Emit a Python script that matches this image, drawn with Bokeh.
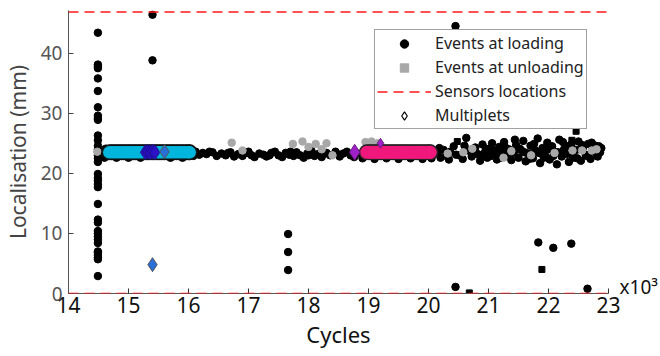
from bokeh.plotting import figure
from bokeh.models import Span, Legend, LegendItem, FixedTicker, LinearAxis
from bokeh.embed import file_html
from bokeh.resources import INLINE

FONT = "Noto Sans"
NAN = float("nan")

# ---------------- data (x in thousands of cycles, y in mm) ----------------
x_ticks = [14, 15, 16, 17, 18, 19, 20, 21, 22, 23]
x_tick_labels = ["14", "15", "16", "17", "18", "19", "20", "21", "22", "23"]
y_ticks = [0, 10, 20, 30, 40]
y_tick_labels = ["0", "10", "20", "30", "40"]
x_multiplier_label = "x10\u00b3"

sensor_locations = [0.0, 46.85]

loading_x = [
    14.49, 14.49, 14.49, 14.49, 14.49, 14.49, 14.49, 14.49, 14.49, 14.49,
    14.49, 14.49, 14.49, 14.49, 14.49, 14.49, 14.49, 14.49, 14.49, 14.49,
    14.49, 14.49, 14.49, 14.49, 14.49, 14.49, 14.49, 14.49, 14.49, 14.49,
    14.49, 14.49, 14.49, 14.49, 14.49, 14.49,
    15.40, 15.40, 17.66, 17.66, 17.66,
    20.45, 20.45, 21.83, 22.08, 22.38, 22.65,
    14.55, 14.60, 14.62, 14.80, 15.00, 15.20, 15.70, 15.90,
    16.05, 16.12, 16.18, 16.24, 16.30, 16.40, 16.47, 16.55, 16.62, 16.70,
    16.76, 16.83, 16.90, 16.98, 17.05, 17.10, 17.18, 17.25, 17.30, 17.38,
    17.44, 17.50, 17.56, 17.62, 17.68, 17.75, 17.80, 17.86, 17.92, 17.98,
    18.05, 18.10, 18.16, 18.22, 18.30, 18.36, 18.45, 18.52, 18.58, 18.64,
    18.70, 18.76, 18.90, 19.10, 19.30, 19.50, 19.70, 19.90, 20.05,
    16.08, 16.35, 16.66, 17.00, 17.35, 17.70, 18.00, 18.26, 18.48, 18.80,
    20.15, 20.20, 20.25, 20.30, 20.36, 20.42, 20.52, 20.57, 20.63, 20.66,
    20.72, 20.78, 20.82, 20.86, 20.90, 20.94, 20.98, 21.02, 21.06, 21.10,
    21.14, 21.18, 21.22, 21.26, 21.30, 21.34, 21.38, 21.42, 21.46, 21.50,
    21.54, 21.58, 21.62, 21.66, 21.70, 21.74, 21.78, 21.82, 21.86, 21.90,
    21.94, 21.98, 22.02, 22.06, 22.10, 22.14, 22.18, 22.22, 22.26, 22.30,
    22.34, 22.38, 22.42, 22.46, 22.50, 22.54, 22.58, 22.62, 22.66, 22.70,
    22.74, 22.78, 22.82, 22.86, 22.88,
    20.18, 20.34, 20.46, 20.60, 20.75, 20.88, 20.96, 21.04, 21.12, 21.20,
    21.28, 21.36, 21.44, 21.52, 21.60, 21.68, 21.76, 21.84, 21.92, 22.00,
    22.08, 22.16, 22.24, 22.32, 22.40, 22.48, 22.56, 22.64, 22.72, 22.80,
    22.84,
]
loading_y = [
    43.4, 38.1, 37.8, 37.5, 35.8, 33.7, 31.0, 29.6, 29.2, 28.9,
    26.3, 25.5, 24.6, 24.0, 23.0, 22.5, 21.9, 19.9, 19.2, 18.8,
    18.2, 17.7, 14.9, 12.3, 11.8, 10.4, 10.0, 9.5, 9.0, 8.4,
    7.0, 6.8, 6.4, 6.0, 5.7, 2.9,
    46.4, 38.8, 9.9, 6.9, 3.9,
    44.5, 1.1, 8.5, 7.6, 8.3, 0.8,
    23.1, 22.6, 24.1, 22.6, 22.6, 22.6, 22.6, 22.6,
    23.3, 23.6, 23.1, 23.4, 23.2, 23.5, 22.9, 23.3, 23.0, 23.5,
    22.8, 23.2, 22.9, 23.4, 23.0, 22.7, 23.3, 23.1, 22.8, 23.4,
    23.6, 23.0, 22.7, 23.4, 23.1, 22.9, 23.5, 23.0, 22.6, 23.3,
    23.7, 22.9, 23.2, 22.7, 23.4, 23.0, 23.6, 22.8, 23.3, 23.6,
    23.0, 22.7, 22.5, 22.4, 22.5, 22.4, 22.5, 22.4, 22.5,
    22.9, 23.6, 23.4, 23.6, 23.0, 23.6, 23.0, 23.3, 23.2, 23.3,
    23.4, 22.6, 23.9, 22.9, 23.6, 24.5, 23.0, 22.4, 25.9, 23.8,
    22.8, 24.3, 23.2, 22.1, 24.8, 23.5, 22.6, 24.1, 25.0, 23.0,
    22.3, 24.4, 23.7, 25.2, 22.9, 24.0, 22.2, 23.4, 24.7, 22.6,
    23.9, 25.4, 22.0, 23.3, 24.6, 22.5, 23.8, 25.8, 21.7, 24.2,
    23.0, 25.1, 22.3, 24.5, 23.6, 21.5, 25.6, 22.8, 24.0, 23.2,
    21.9, 24.8, 22.6, 23.9, 25.3, 22.1, 24.4, 23.1, 24.9, 22.4,
    23.7, 24.6, 22.8, 23.5, 24.2,
    24.2, 22.3, 23.1, 24.6, 23.4, 23.0, 24.1, 22.9, 23.8, 22.6,
    24.3, 23.3, 25.6, 24.1, 23.5, 22.4, 24.9, 23.4, 22.6, 24.0,
    22.9, 23.5, 25.2, 24.5, 23.0, 22.5, 24.7, 22.9, 25.1, 23.4,
    24.5,
]

loading_sq_x = [20.48, 20.68, 21.89, 22.39, 22.46]
loading_sq_y = [25.3, 0.1, 4.0, 25.5, 27.0]

unloading_x = [14.48, 16.72, 16.90, 17.74, 17.90, 18.00, 18.12, 18.22, 18.30, 18.40,
               18.95, 19.05, 19.15, 20.32, 20.58, 20.73, 21.25, 21.38, 21.71, 22.10,
               22.40, 22.56, 22.72, 22.80]
unloading_y = [23.6, 25.1, 23.8, 24.9, 25.3, 24.4, 24.9, 24.0, 25.0, 23.0,
               25.2, 25.3, 25.0, 23.3, 23.5, 24.1, 22.6, 23.7, 23.0, 23.4,
               23.8, 23.8, 23.8, 24.0]

mult_cyan_x = [14.68, 14.72, 14.76, 14.80, 14.84, 14.88, 14.92, 14.96, 15.00, 15.04,
               15.08, 15.12, 15.16, 15.20, 15.24, 15.28, 15.32, 15.36, 15.40, 15.44,
               15.48, 15.52, 15.56, 15.60, 15.64, 15.68, 15.72, 15.76, 15.80, 15.84,
               15.88, 15.92, 15.96, 16.00, 16.02]
mult_cyan_y = [23.5] * len(mult_cyan_x)

mult_indigo_x = [15.28, 15.32, 15.36, 15.40, 15.44]
mult_indigo_y = [23.5, 23.6, 23.5, 23.6, 23.5]

mult_blue_x = [15.60, 15.40]
mult_blue_y = [23.6, 4.8]

mult_pink_x = [18.97, 19.01, 19.05, 19.09, 19.13, 19.17, 19.21, 19.25, 19.29, 19.33,
               19.37, 19.41, 19.45, 19.49, 19.53, 19.57, 19.61, 19.65, 19.69, 19.73,
               19.77, 19.81, 19.85, 19.89, 19.93, 19.97, 20.01, 20.03]
mult_pink_y = [23.5] * len(mult_pink_x)

mult_purple_x = [18.77, 19.20]
mult_purple_y = [23.5, 25.0]

# ---------------- figure ----------------
p = figure(width=660, height=356, x_range=(14, 23), y_range=(0, 47.1),
           output_backend="svg", toolbar_location=None,
           min_border_left=67, min_border_right=44, min_border_top=10,
           min_border_bottom=63)
p.outline_line_color = None
p.xgrid.visible = False
p.ygrid.visible = False

xa = p.xaxis[0]
xa.ticker = FixedTicker(ticks=x_ticks)
xa.major_label_overrides = {t: l for t, l in zip(x_ticks, x_tick_labels)}
xa.major_tick_in = 5
xa.major_tick_out = 0
xa.minor_tick_line_color = None
xa.axis_line_color = "#555555"
xa.major_tick_line_color = "#333333"
xa.major_label_text_font = FONT
xa.major_label_text_font_size = "21px"
xa.major_label_text_color = "#111111"
xa.major_label_standoff = 3
xa.axis_label = "Cycles"
xa.axis_label_text_font = FONT
xa.axis_label_text_font_size = "22px"
xa.axis_label_text_font_style = "normal"
xa.axis_label_text_color = "#111111"
xa.axis_label_standoff = 3

ya = p.yaxis[0]
ya.ticker = FixedTicker(ticks=y_ticks)
ya.major_label_overrides = {t: l for t, l in zip(y_ticks, y_tick_labels)}
ya.major_tick_in = 5
ya.major_tick_out = 0
ya.minor_tick_line_color = None
ya.axis_line_color = "#555555"
ya.major_tick_line_color = "#444444"
ya.major_label_text_font = FONT
ya.major_label_text_font_size = "19px"
ya.major_label_text_color = "#555555"
ya.major_label_standoff = 6
ya.axis_label = "Localisation (mm)"
ya.axis_label_text_font = FONT
ya.axis_label_text_font_size = "21px"
ya.axis_label_text_font_style = "normal"
ya.axis_label_text_color = "#444444"
ya.axis_label_standoff = 6

# "x10^3" multiplier shown as a horizontal tick label on a bare right axis
ra = LinearAxis(ticker=FixedTicker(ticks=[1]),
                major_label_overrides={1: x_multiplier_label})
ra.axis_line_color = None
ra.major_tick_line_color = None
ra.minor_tick_line_color = None
ra.major_label_standoff = 5
ra.major_label_text_font = FONT
ra.major_label_text_font_size = "19px"
ra.major_label_text_color = "#111111"
p.add_layout(ra, "right")

RED = "#ff1a1a"
for s in sensor_locations:
    p.add_layout(Span(location=s, dimension="width", line_color=RED,
                      line_width=1.5, line_dash="10 6"))

# data glyphs
p.scatter(loading_x, loading_y, marker="circle", size=7.5, fill_color="black",
          line_color="black")
p.scatter(loading_sq_x, loading_sq_y, marker="square", size=6, fill_color="black",
          line_color="black")
p.scatter(unloading_x, unloading_y, marker="circle", size=7.5, fill_color="#a8a8a8",
          line_color="#a8a8a8")
# multiplet bands: dark outline pass, then fill pass
p.scatter(mult_cyan_x, mult_cyan_y, marker="circle", size=16, fill_color="#111111",
          line_color=None)
p.scatter(mult_cyan_x, mult_cyan_y, marker="circle", size=12.5, fill_color="#00b6dd",
          line_color=None)
p.scatter(mult_indigo_x, mult_indigo_y, marker="diamond", size=15, fill_color="#2b12c4",
          line_color="#1a0a80", line_width=0.8)
p.scatter(mult_blue_x, mult_blue_y, marker="diamond", size=14, fill_color="#2a6fd8",
          line_color="#555555", line_width=1)
p.scatter(mult_pink_x, mult_pink_y, marker="circle", size=16, fill_color="#222222",
          line_color=None)
p.scatter(mult_pink_x, mult_pink_y, marker="circle", size=13, fill_color="#f0187c",
          line_color=None)
p.scatter(mult_purple_x, mult_purple_y, marker="diamond", size=[16, 10],
          fill_color="#a020c8", line_color="#5a1070", line_width=0.8)

# legend proxies (single NaN point so nothing is drawn in the plot)
lg_load = p.scatter([NAN], [NAN], marker="circle", size=6, fill_color="black",
                    line_color="black")
lg_unload = p.scatter([NAN], [NAN], marker="square", size=5, fill_color="#a8a8a8",
                      line_color="#a8a8a8")
lg_sensor = p.line([NAN], [NAN], line_color=RED, line_width=1.5, line_dash="10 6")
lg_mult = p.scatter([NAN], [NAN], marker="diamond", size=12, fill_color="white",
                    line_color="black", line_width=1.2)

legend = Legend(items=[
    LegendItem(label="Events at loading", renderers=[lg_load]),
    LegendItem(label="Events at unloading", renderers=[lg_unload]),
    LegendItem(label="Sensors locations", renderers=[lg_sensor]),
    LegendItem(label="Multiplets", renderers=[lg_mult]),
], location=(306, 164))
legend.label_text_font = FONT
legend.label_text_font_size = "16px"
legend.label_text_color = "#222222"
legend.border_line_color = "#444444"
legend.border_line_width = 1
legend.background_fill_alpha = 1.0
legend.padding = 2
legend.spacing = 2
legend.margin = 0
legend.glyph_width = 54
legend.glyph_height = 21
legend.label_height = 21
legend.label_standoff = 4
p.add_layout(legend)

open("out.html", "w").write(file_html(p, INLINE))
